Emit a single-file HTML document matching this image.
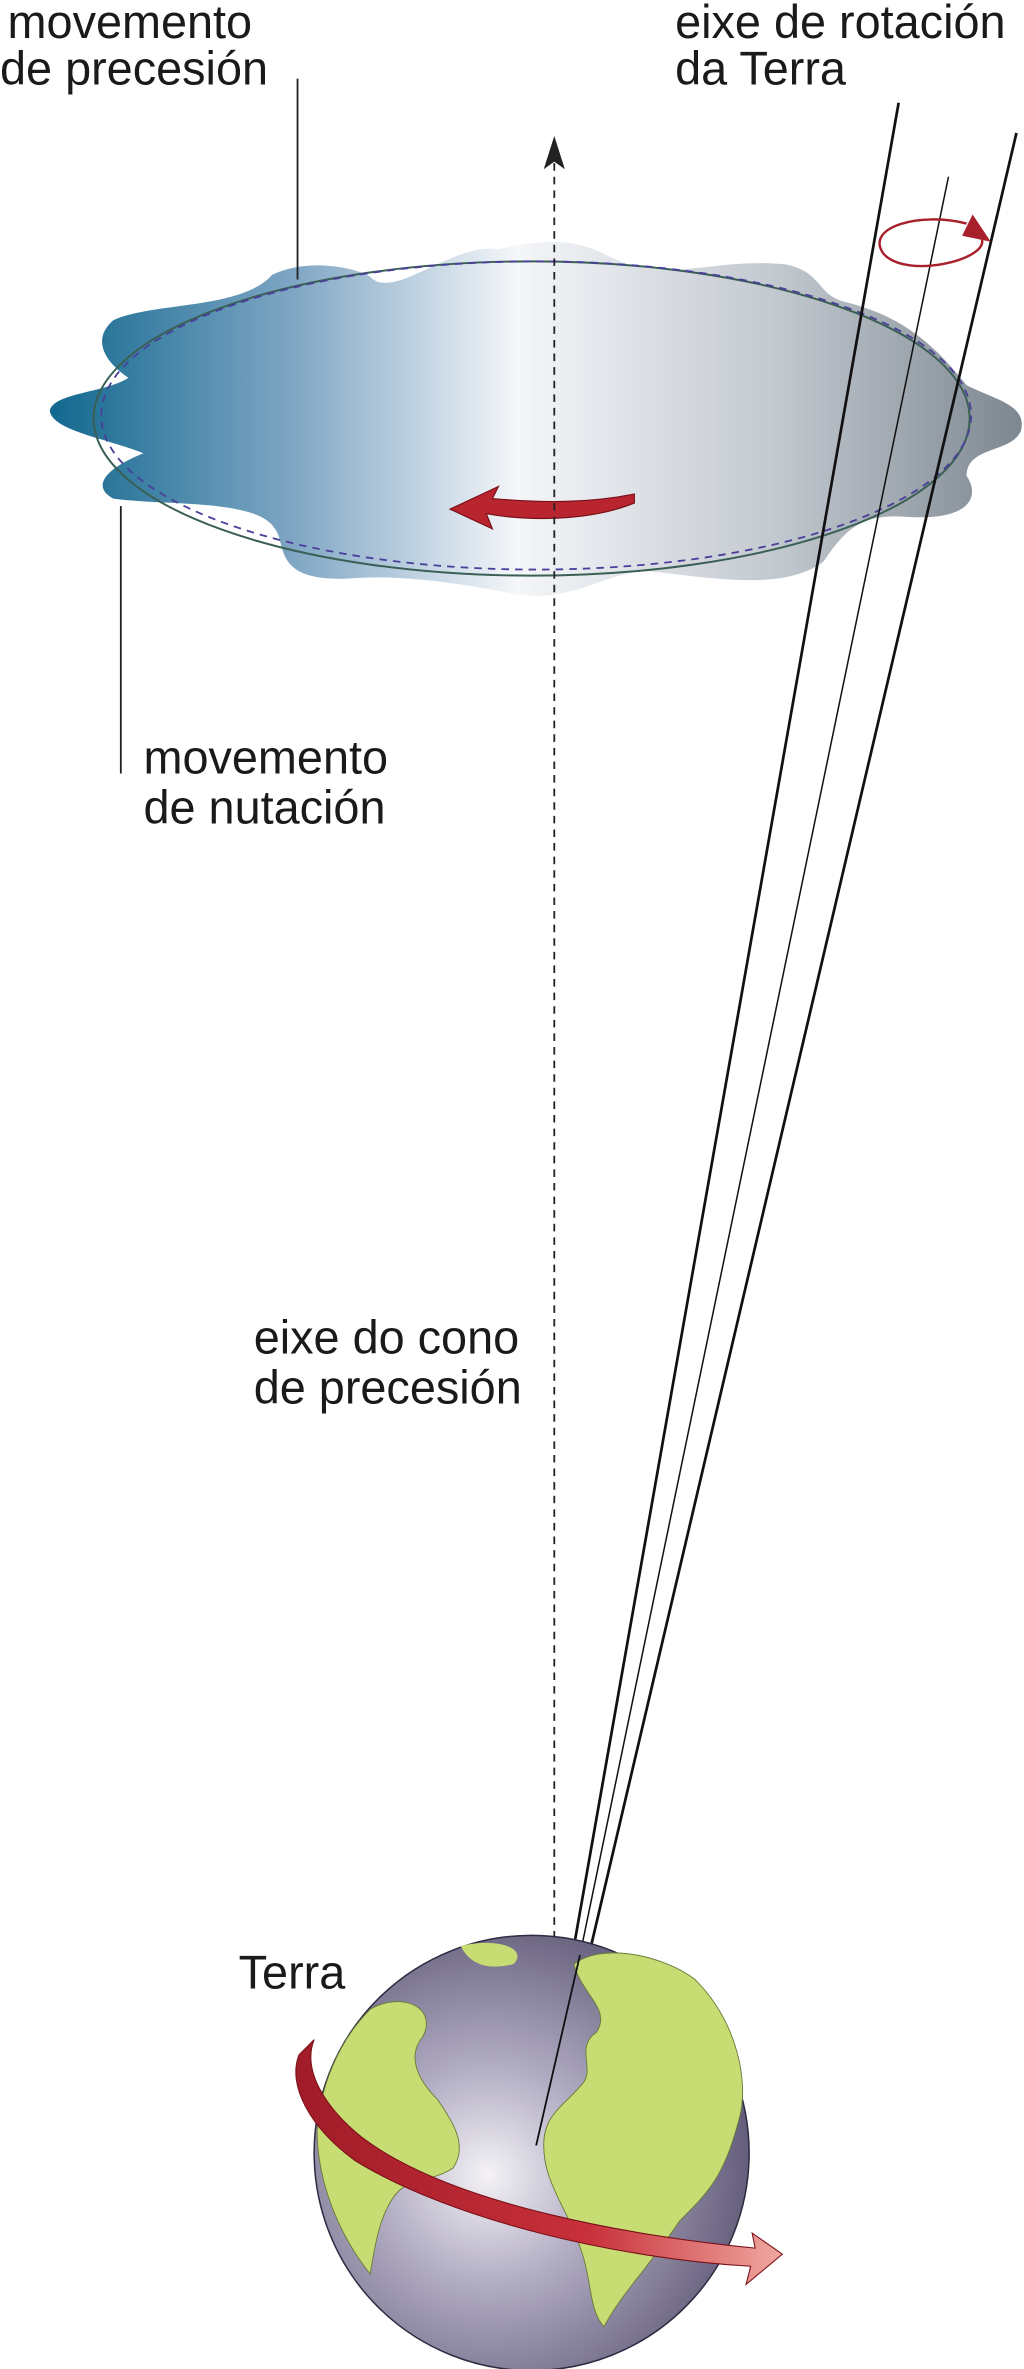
<!DOCTYPE html>
<html><head><meta charset="utf-8"><style>
html,body{margin:0;padding:0;background:#fff}
svg{display:block}
text{font-family:"Liberation Sans",sans-serif;fill:#1a1a1a}
</style></head><body>
<svg width="1024" height="2369" viewBox="0 0 678 1568" preserveAspectRatio="none" xmlns="http://www.w3.org/2000/svg">
<defs>
<linearGradient id="disk" x1="0" x2="1" y1="0" y2="0">
<stop offset="0" stop-color="#12688f"/>
<stop offset="0.25" stop-color="#7fa6c4"/>
<stop offset="0.48" stop-color="#f4f6f9"/>
<stop offset="0.75" stop-color="#c2c8cf"/>
<stop offset="1" stop-color="#7d8790"/>
</linearGradient>
<radialGradient id="earth" cx="0.4" cy="0.55" r="0.7">
<stop offset="0" stop-color="#f4f2f6"/>
<stop offset="0.35" stop-color="#b3aec4"/>
<stop offset="1" stop-color="#4f4868"/>
</radialGradient>
<linearGradient id="red" x1="0" x2="1">
<stop offset="0" stop-color="#a01c28"/>
<stop offset="0.6" stop-color="#c8303a"/>
<stop offset="1" stop-color="#f0a8a0"/>
</linearGradient>
</defs>

<!-- disk -->
<path d="M180,182 C200,172 230,175 245,183 C260,200 300,160 330,165 C360,158 380,158 400,168 C440,190 470,170 520,175 C545,180 540,195 560,200 C600,210 620,230 640,255 C660,265 680,268 676,285 C670,300 640,295 640,315 C650,330 640,345 600,342 C570,340 560,350 545,372 C520,390 480,384 430,378 C400,378 380,400 340,393 C300,385 260,380 230,383 C180,385 190,360 182,350 C170,330 110,335 75,330 C60,322 70,310 95,300 C70,290 35,285 33,272 C35,260 70,260 85,250 C70,240 60,225 75,212 C100,200 160,205 180,182 Z" fill="url(#disk)"/>
<ellipse cx="352" cy="277" rx="290" ry="104" fill="none" stroke="#3a5f55" stroke-width="1.3"/>
<ellipse cx="355" cy="275" rx="288" ry="102" fill="none" stroke="#4a3f9a" stroke-width="1.2" stroke-dasharray="5,4"/>

<!-- red arrow on disk -->
<path d="M420,333 C390,345 350,345 322,340 L326,350 L298,337 L330,322 L326,330 C360,333 390,333 420,327 Z" fill="#b9252f" stroke="#7a1018" stroke-width="0.8"/>

<!-- dashed axis -->
<line x1="367" y1="1292" x2="367" y2="104" stroke="#222" stroke-width="1.2" stroke-dasharray="5,4"/>
<path d="M360,112 L367,90 L374,112 L367,107 Z" fill="#222"/>

<!-- rotation axis lines -->
<line x1="595" y1="68" x2="379" y2="1294" stroke="#111" stroke-width="1.8"/>
<line x1="673" y1="88" x2="389" y2="1298" stroke="#111" stroke-width="1.8"/>
<line x1="628" y1="117" x2="384" y2="1294" stroke="#111" stroke-width="1"/>
<path d="M650,158 C655,172 600,185 585,168 C572,150 610,140 640,148" fill="none" stroke="#a8202c" stroke-width="1.6"/>
<path d="M644,142 L656,160 L637,156 Z" fill="#a8202c"/>

<!-- pointer lines -->
<line x1="197" y1="52" x2="197" y2="185" stroke="#222" stroke-width="1.2"/>
<line x1="80" y1="335" x2="80" y2="512" stroke="#222" stroke-width="1.2"/>

<!-- labels -->
<text x="5" y="25" font-size="31">movemento</text>
<text x="0" y="56" font-size="31">de precesión</text>
<text x="447" y="25" font-size="31">eixe de rotación</text>
<text x="447" y="56" font-size="31">da Terra</text>
<text x="95" y="512" font-size="31">movemento</text>
<text x="95" y="545" font-size="31">de nutación</text>
<text x="168" y="896" font-size="31">eixe do cono</text>
<text x="168" y="929" font-size="31">de precesión</text>
<text x="158" y="1316" font-size="31">Terra</text>

<!-- earth -->
<circle cx="352" cy="1425" r="144" fill="url(#earth)" stroke="#2e2a40" stroke-width="1"/>
<path d="M305,1288 C330,1282 350,1290 340,1300 C320,1305 310,1298 305,1288 Z" fill="#c7dc72"/>
<path d="M380,1300 C400,1285 440,1295 460,1310 C490,1340 495,1380 490,1400 C480,1440 470,1450 450,1470 C430,1500 410,1520 400,1540 C390,1530 392,1510 385,1490 C375,1460 360,1445 360,1420 C360,1400 372,1395 385,1380 C395,1370 380,1355 395,1345 C405,1330 385,1320 380,1300 Z" fill="#c7dc72" stroke="#6a7a3a" stroke-width="0.6"/>
<path d="M245,1330 C265,1318 290,1328 280,1348 C270,1360 275,1375 290,1390 C300,1405 310,1420 300,1435 C285,1445 270,1440 260,1455 C250,1470 248,1490 245,1505 C225,1480 210,1445 210,1410 C212,1380 225,1350 245,1330 Z" fill="#c7dc72" stroke="#6a7a3a" stroke-width="0.6"/>
<line x1="355" y1="1420" x2="384" y2="1294" stroke="#111" stroke-width="1.2"/>

<!-- red band around earth -->
<path d="M208,1350 C200,1370 215,1395 240,1415 C300,1460 420,1480 500,1488 L498,1478 L518,1492 L494,1512 L497,1500 C410,1495 300,1470 235,1430 C205,1408 190,1380 198,1360 Z" fill="url(#red)" stroke="#7a1018" stroke-width="0.7"/>
</svg>
</body></html>
